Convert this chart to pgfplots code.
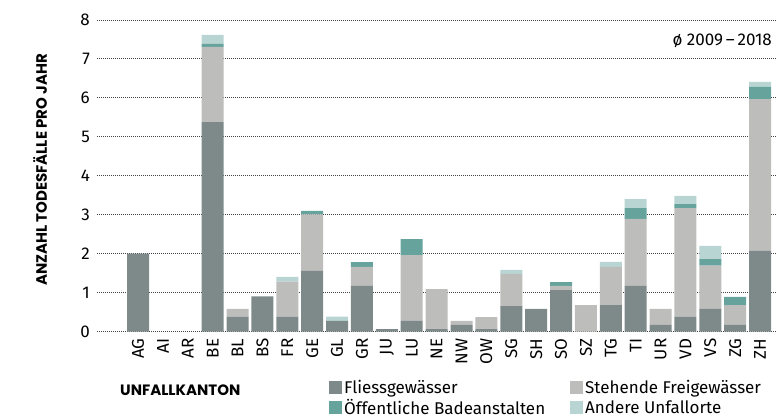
\documentclass[border=0pt]{standalone}
\usepackage{fontspec}
\setmainfont{Fira Sans}
\newfontfamily\pop{Poppins}
\usepackage{pgfplots}
\usepackage{pgfplotstable}
\pgfplotsset{compat=1.18}

\definecolor{fliess}{HTML}{7E8A8A}
\definecolor{stehend}{HTML}{BDBDBC}
\definecolor{baden}{HTML}{66A39D}
\definecolor{andere}{HTML}{B9D5D3}

% Todesfaelle pro Jahr, Mittel 2009-2018
\pgfplotstableread{
x  kt  fl    st    bad   and
0  AG  2.00  0     0     0
1  AI  0     0     0     0
2  AR  0     0     0     0
3  BE  5.38  1.93  0.08  0.23
4  BL  0.38  0.20  0     0
5  BS  0.90  0     0     0
6  FR  0.38  0.90  0     0.12
7  GE  1.56  1.45  0.09  0
8  GL  0.27  0     0     0.11
9  GR  1.17  0.49  0.12  0
10 JU  0.06  0     0     0
11 LU  0.27  1.69  0.41  0
12 NE  0.06  1.03  0     0
13 NW  0.17  0.10  0     0
14 OW  0.06  0.31  0     0
15 SG  0.65  0.83  0     0.10
16 SH  0.58  0     0     0
17 SO  1.06  0.11  0.10  0
18 SZ  0     0.68  0     0
19 TG  0.68  0.98  0     0.13
20 TI  1.17  1.72  0.28  0.23
21 UR  0.17  0.41  0     0
22 VD  0.38  2.79  0.10  0.21
23 VS  0.58  1.11  0.17  0.34
24 ZG  0.17  0.51  0.21  0
25 ZH  2.07  3.90  0.31  0.13
}\data

\begin{document}
\begin{tikzpicture}
\path[use as bounding box] (0,0) rectangle (776bp,420bp);
\begin{axis}[
    at={(97bp,88.5bp)}, anchor=south west,
    width=679bp, height=311.5bp, scale only axis,
    ybar stacked, bar width=22bp,
    xmin=-1.65, xmax=25.64,
    ymin=0, ymax=8,
    ytick={0,...,8},
    xtick={0,...,25},
    xticklabels={AG,AI,AR,BE,BL,BS,FR,GE,GL,GR,JU,LU,NE,NW,OW,SG,SH,SO,SZ,TG,TI,UR,VD,VS,ZG,ZH},
    axis line style={draw=none},
    major tick length=0pt,
    ymajorgrids,
    grid style={black!75, line width=0.9bp, dash pattern=on 1bp off 1bp},
    /pgf/number format/assume math mode=true,
    ticklabel style={font=\fontsize{17bp}{20bp}\selectfont, inner sep=0pt},
    yticklabel shift=7bp,
    xticklabel shift=7bp,
    xticklabel style={rotate=90, anchor=east},
    legend columns=2,
    legend cell align=left,
    legend style={draw=none, fill=none, inner sep=0pt,
        at={(0.3417,-0.150)}, anchor=north west,
        font=\fontsize{17bp}{19bp}\selectfont,
        /tikz/every even column/.append style={column sep=23bp},
        row sep=0bp},
    legend image code/.code={\fill[#1] (0bp,-6.5bp) rectangle (13bp,6.5bp);},
]
\addplot[fill=fliess, draw=none] table[x=x, y=fl] {\data};
\addplot[fill=stehend, draw=none] table[x=x, y=st] {\data};
\addplot[fill=baden, draw=none] table[x=x, y=bad] {\data};
\addplot[fill=andere, draw=none] table[x=x, y=and] {\data};
\legend{Fliessgewässer, Stehende Freigewässer, Öffentliche Badeanstalten, Andere Unfallorte}
\end{axis}
\node[anchor=east, inner sep=0pt, font=\fontsize{17bp}{20bp}\selectfont] at (772bp,379bp) {ø 2009\,–\,2018};
\node[rotate=90, inner sep=0pt, font=\pop\bfseries\fontsize{15bp}{18bp}\selectfont] at (40bp,250bp) {ANZAHL TODESFÄLLE PRO JAHR};
\node[anchor=west, inner sep=0pt, font=\pop\bfseries\fontsize{15bp}{18bp}\selectfont] at (120bp,30bp) {UNFALLKANTON};
\end{tikzpicture}
\end{document}
